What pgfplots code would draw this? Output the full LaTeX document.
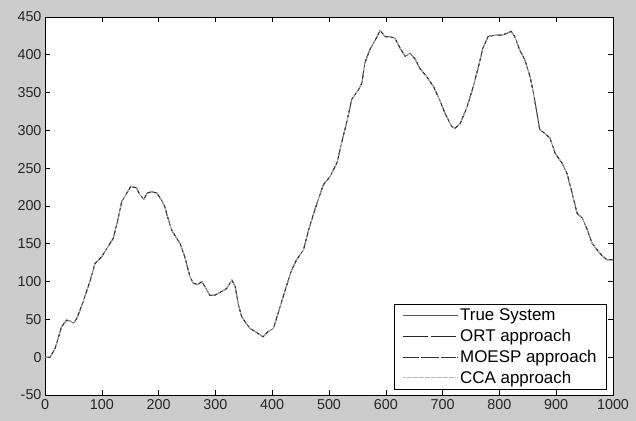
\documentclass[border=0pt]{standalone}
\usepackage{pgfplots}
\pgfplotsset{compat=1.18}
\usepackage{pgfplotstable}
\usepackage{fontspec}
\setmainfont{Liberation Sans}
\definecolor{figbg}{gray}{0.8}
\definecolor{truecol}{gray}{0.35}
\definecolor{ortcol}{gray}{0.15}
\definecolor{moespcol}{gray}{0.2}
\definecolor{ccacol}{gray}{0.72}
\pgfplotstableread{
x y
0 0
9 0
18 12
29 40
38 49
44 48
50 45
56 51
67 73
79 100
88 124
100 133
109 144
120 157
129 184
135 206
144 217
151 226
161 224
167 215
174 209
180 217
188 219
197 217
205 208
211 199
214 190
223 168
238 150
246 133
255 107
261 98
269 96
276 100
282 93
290 82
299 82
311 87
320 91
329 102
335 93
340 71
346 54
352 47
361 38
370 34
384 27
393 34
402 38
405 45
414 67
423 89
434 115
443 129
455 142
464 168
475 195
490 228
502 239
514 257
522 283
531 310
540 341
552 354
558 363
563 389
572 407
584 423
590 432
599 424
607 424
616 422
625 409
634 398
643 402
651 395
660 382
672 371
684 358
695 340
704 323
716 305
722 303
731 309
743 331
754 358
763 384
771 409
780 424
792 426
804 426
812 428
821 431
827 424
836 406
845 393
854 371
860 349
866 323
871 301
880 296
889 290
898 270
910 257
919 243
928 217
937 190
946 184
955 168
963 151
972 142
980 135
989 129
998 129
1000 128
}\datatable
\begin{document}
\begin{tikzpicture}
\fill[figbg] (0,0) rectangle (636bp,421bp);
\useasboundingbox (0,0) rectangle (636bp,421bp);
\begin{axis}[
  at={(45bp,26bp)}, anchor=south west,
  scale only axis, width=568bp, height=378bp,
  xmin=0, xmax=1000, ymin=-50, ymax=450,
  xtick={0,100,...,1000}, ytick={-50,0,...,450},
  tick align=inside, major tick length=5bp,
  axis background/.style={fill=white},
  axis line style={black, line width=0.6bp},
  every tick/.style={black, line width=0.6bp},
  /pgf/number format/assume math mode=true,
  /pgf/number format/1000 sep={},
  tick label style={font=\fontsize{14.4}{16}\selectfont, text=black!85},
  xticklabel style={yshift=-1bp},
  legend style={at={(0.9894,0.0132)}, anchor=south east, draw=black, line width=0.6bp,
    font=\fontsize{17}{19}\selectfont, inner xsep=8bp, inner ysep=3bp,
    row sep=3bp, column sep=0bp},
  legend cell align=left,
  legend image code/.code={\path (0bp,0bp) -- (55bp,0bp);\draw[#1] (4bp,0bp) -- (53bp,0bp);},
]
\addplot[truecol, line width=0.8bp] table[x=x,y=y] {\datatable};
\addlegendentry{True System}
\addplot[ortcol, line width=0.8bp, dash pattern=on 21bp off 7bp] table[x=x,y=y] {\datatable};
\addlegendentry{ORT approach}
\addplot[moespcol, line width=0.8bp, dash pattern=on 10bp off 4bp on 2bp off 4bp] table[x=x,y=y] {\datatable};
\addlegendentry{MOESP approach}
\addplot[ccacol, line width=0.8bp, dash pattern=on 3bp off 3bp] table[x=x,y=y] {\datatable};
\addlegendentry{CCA approach}
\end{axis}
\end{tikzpicture}
\end{document}
